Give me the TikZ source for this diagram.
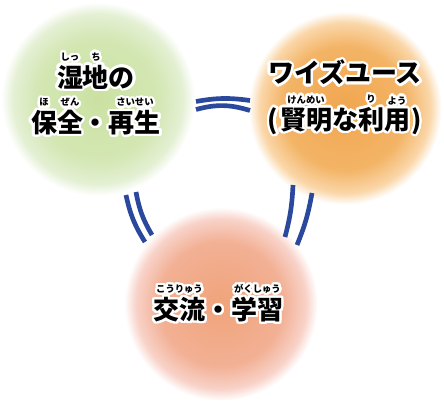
\documentclass[tikz,border=0pt]{standalone}
\usepackage{fontspec}
\usepackage{contour}
\usetikzlibrary{positioning}
\newfontfamily\jp{Noto Sans CJK JP}
\contourlength{1.4pt}
\contournumber{24}
\newcommand{\rbfont}{\fontsize{5.6}{6}\selectfont}
\newcommand{\rb}[2]{\leavevmode\vbox{\offinterlineskip\halign{\hfil##\hfil\cr{\rbfont#2}\cr\noalign{\kern2.3pt}#1\cr}}}
\definecolor{linkblue}{RGB}{42,72,156}
\definecolor{gin}{RGB}{202,225,162}
\definecolor{gmid}{RGB}{212,231,180}
\definecolor{gedge}{RGB}{228,240,212}
\definecolor{oin}{RGB}{241,166,80}
\definecolor{omid}{RGB}{243,180,102}
\definecolor{oedge}{RGB}{250,214,168}
\definecolor{pin}{RGB}{240,164,122}
\definecolor{pmid}{RGB}{242,176,148}
\definecolor{pedge}{RGB}{248,210,200}
\pgfdeclareradialshading{greenwash}{\pgfpoint{0bp}{0bp}}{color(0bp)=(gin); color(16bp)=(gmid); color(22bp)=(gedge); color(25bp)=(white); color(50bp)=(white)}
\pgfdeclareradialshading{orangewash}{\pgfpoint{0bp}{0bp}}{color(0bp)=(oin); color(16bp)=(omid); color(22bp)=(oedge); color(25bp)=(white); color(50bp)=(white)}
\pgfdeclareradialshading{pinkwash}{\pgfpoint{0bp}{0bp}}{color(0bp)=(pin); color(16bp)=(pmid); color(22bp)=(pedge); color(25bp)=(white); color(50bp)=(white)}

\begin{document}
\begin{tikzpicture}[
  x=0.6pt, y=0.6pt,
  ball/.style={circle, minimum size=116pt, inner sep=0pt, shade},
  txt/.style={font=\jp\bfseries\fontsize{15.6}{18}\selectfont,
              align=center, inner sep=0pt},
  link/.style={draw=linkblue, line width=2.8pt}
]
  \useasboundingbox (0,0) rectangle (444,-406);

  % Circles
  \node[ball, shading=greenwash] (wet) at (98,-99) {};
  \node[ball, shading=orangewash] (wise) at (345,-108) {};
  \node[ball, shading=pinkwash] (learn) at (221,-304) {};

  % Texts
  \node[txt] (wettxt) at (96,-95)
    {\contour{white}{\rb{湿}{しっ}\rb{地}{ち}の}\\[3pt]%
     \contour{white}{\rb{保}{ほ}\rb{全}{ぜん}・\rb{再生}{さいせい}}};
  \node[txt] (wisetxt) at (345,-98.5)
    {\contour{white}{ワイズユース}\\[3.6pt]%
     \contour{white}{(\kern1pt\rb{賢明}{けんめい}な\rb{利}{り}\rb{用}{よう}\kern1pt)}};
  \node[txt, anchor=base] (learntxt) at (218.5,-319.5)
    {\contour{white}{\rb{交流}{こうりゅう}・\rb{学習}{がくしゅう}}};

  % Double links
  \coordinate (ww1a) at (196,-101.5); \coordinate (ww1b) at (250,-100.5);
  \coordinate (ww2a) at (196,-109.5); \coordinate (ww2b) at (250,-110.5);
  \coordinate (wl1a) at (126,-195);   \coordinate (wl1b) at (145,-242);
  \coordinate (wl2a) at (136,-192);   \coordinate (wl2b) at (152,-235);
  \coordinate (il1a) at (293,-185);   \coordinate (il1b) at (285,-237);
  \coordinate (il2a) at (312,-193);   \coordinate (il2b) at (297,-245);

  \draw[link] (ww1a) to[bend left=9] (ww1b);
  \draw[link] (ww2a) to[bend left=16] (ww2b);
  \draw[link] (wl1a) to[bend right=10] (wl1b);
  \draw[link] (wl2a) to[bend right=10] (wl2b);
  \draw[link] (il1a) to[bend left=6] (il1b);
  \draw[link] (il2a) to[bend left=6] (il2b);
\end{tikzpicture}
\end{document}
